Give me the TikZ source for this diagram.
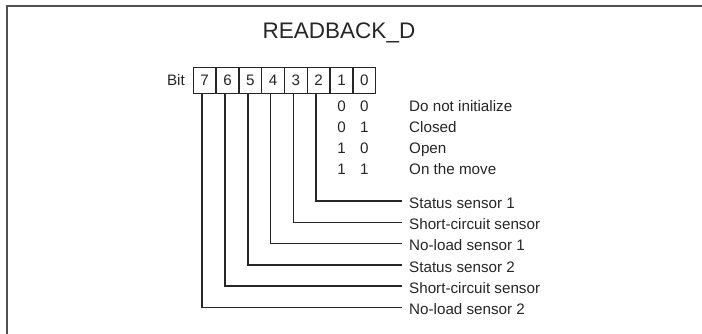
\documentclass[tikz,border=0pt]{standalone}
\usepackage{fontspec}
\setmainfont{Liberation Sans}
\usetikzlibrary{calc}
\definecolor{ink}{HTML}{262626}
\definecolor{framec}{HTML}{505050}
\begin{document}
\begin{tikzpicture}[x=1pt,y=-1pt,
  txt/.style={font=\fontsize{15.2}{17}\selectfont, inner sep=0pt, text=ink},
  cell/.style={draw=ink, line width=1.3pt, minimum width=22.8pt, minimum height=25.6pt,
    inner sep=0pt, font=\fontsize{15.2}{17}\selectfont, text=ink, text height=10.3pt, text depth=0pt},
  sens/.style={txt, anchor=west, text height=14.6pt, text depth=0pt},
  wire/.style={draw=ink, line width=1.5pt},
  frameline/.style={draw=framec, line width=2pt}]
\useasboundingbox (0,0) rectangle (702,334);
\draw[frameline] (702,6.5) -| (7,334);
\node[font=\fontsize{22.5}{26}\selectfont, text=ink, anchor=base, inner sep=0pt] (title) at (339,38.3) {READBACK\_D};
\node[txt, anchor=base east] (bitlbl) at (185,86) {Bit};
\foreach \b [count=\k from 0] in {7,6,5,4,3,2,1,0}
  \node[cell] (b\b) at (204.7+\k*22.8, 80.5) {\b};
\foreach \p/\q/\m [count=\r from 0] in {0/0/Do not initialize,0/1/Closed,1/0/Open,1/1/On the move}{
  \node[txt, anchor=base] (ra\r) at ($(b1.center)+(0,31.2+\r*21)$) {\p};
  \node[txt, anchor=base] (rb\r) at ($(b0.center)+(0,31.2+\r*21)$) {\q};
  \node[txt, anchor=base west] (rm\r) at (409, 111.7+\r*21) {\m};
}
\foreach \b/\t in {2/Status sensor 1,3/Short-circuit sensor,4/No-load sensor 1,5/Status sensor 2,6/Short-circuit sensor,7/No-load sensor 2}{
  \node[sens] (s\b) at (409, 201+\b*21.3-2*21.3) {\t};
  \draw[wire] ([xshift=-2.5pt]b\b.south) |- ([xshift=-7.3pt]s\b.west);
}
\end{tikzpicture}
\end{document}
